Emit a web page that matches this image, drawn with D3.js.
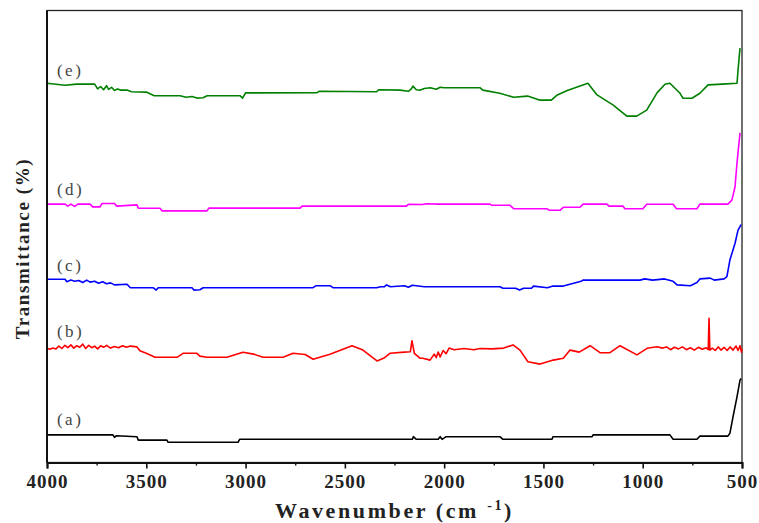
<!DOCTYPE html>
<html>
<head>
<meta charset="utf-8">
<script src="https://cdn.jsdelivr.net/npm/d3@7"></script>
<style>
  html, body { margin: 0; padding: 0; background: #fff; }
  svg { display: block; }
</style>
</head>
<body>
<svg id="chart" width="759" height="523"></svg>
<script>
// ---- Data (wavenumber cm^-1, transmittance in arbitrary offset units) ----
const seriesLabels = ["(a)", "(b)", "(c)", "(d)", "(e)"];
const seriesColors = ["#000000", "#ff0000", "#0000ff", "#ff00ff", "#008000"];
const xMajorTicks = [4000, 3500, 3000, 2500, 2000, 1500, 1000, 500];
const xMinorTicks = [3750, 3250, 2750, 2250, 1750, 1250, 750];
const labelValues = [9.3, 31.3, 47.8, 67.0, 96.6]; // label baseline levels

const seriesA = [[4000,6.9],[3668,6.9],[3660,6.3],[3650,6.7],[3547,6.45],[3540,5.6],[3396,5.6],[3390,5.05],[3038,5.05],[3030,5.8],[2160,5.8],[2155,6.45],[2140,5.8],[2030,5.8],[2020,6.45],[2010,5.8],[1990,6.45],[1719,6.45],[1704,5.8],[1457,5.8],[1452,6.45],[1255,6.45],[1250,6.9],[863,6.9],[847,5.8],[727,5.8],[712,6.6],[571,6.6],[561,7.3],[545,11.45],[525,16.45],[510,20.6],[505,21.0]];

const seriesB = [[4000,28.55],[3985,28.3],[3970,28.6],[3955,28.4],[3940,29.1],[3925,28.5],[3910,29.3],[3895,28.7],[3880,29.4],[3865,28.6],[3850,29.2],[3835,28.8],[3820,29.6],[3805,28.5],[3790,29.3],[3775,28.7],[3760,29.1],[3745,28.4],[3730,29.2],[3715,28.8],[3700,29.3],[3680,28.6],[3660,29.0],[3640,28.7],[3620,29.2],[3600,28.8],[3580,29.1],[3547,28.9],[3532,27.95],[3500,27.3],[3456,26.3],[3345,26.3],[3315,27.3],[3245,27.3],[3230,26.6],[3194,26.3],[3094,26.3],[3013,27.55],[2960,27.1],[2912,26.3],[2811,26.3],[2761,27.3],[2700,27.0],[2660,25.8],[2575,27.05],[2464,29.2],[2409,28.1],[2338,25.4],[2300,26.2],[2273,27.3],[2200,27.6],[2170,27.7],[2162,30.45],[2150,27.3],[2122,26.1],[2107,26.05],[2071,25.6],[2050,27.1],[2040,26.2],[2030,27.6],[2020,26.4],[2005,28.0],[1990,27.2],[1975,28.6],[1950,28.2],[1900,28.5],[1850,28.2],[1819,28.5],[1760,28.4],[1700,28.6],[1653,29.4],[1618,28.1],[1578,25.2],[1517,24.6],[1450,25.6],[1400,26.05],[1366,28.1],[1320,27.6],[1265,29.2],[1215,27.45],[1165,27.45],[1114,29.2],[1029,26.9],[978,28.55],[928,28.95],[900,28.6],[880,28.9],[860,28.2],[840,28.8],[820,28.4],[800,28.9],[780,28.2],[760,28.7],[740,28.1],[720,28.8],[700,28.3],[680,28.7],[670,28.2],[666,36.05],[662,28.1],[650,28.6],[635,28.0],[620,28.9],[605,28.1],[590,28.8],[575,28.0],[560,28.9],[545,28.1],[530,29.1],[520,28.0],[510,29.2],[503,27.6],[500,28.5]];

const seriesC = [[4000,45.8],[3909,45.8],[3900,45.2],[3880,45.6],[3860,45.3],[3840,45.5],[3820,45.0],[3800,45.6],[3783,45.1],[3760,45.3],[3740,44.8],[3720,45.2],[3700,44.7],[3680,44.9],[3660,44.4],[3597,44.55],[3580,43.7],[3466,43.7],[3450,43.1],[3440,43.7],[3270,43.7],[3260,43.1],[3230,43.2],[3214,43.7],[3164,43.7],[2660,43.7],[2645,44.2],[2575,44.2],[2560,43.7],[2450,43.7],[2340,43.7],[2320,43.95],[2300,43.95],[2290,44.4],[2270,43.95],[2200,44.2],[2180,43.8],[2160,44.3],[2100,43.95],[1980,43.95],[1719,43.95],[1704,43.55],[1640,43.55],[1620,43.1],[1600,43.55],[1560,43.55],[1550,44.1],[1480,43.7],[1452,44.1],[1400,44.1],[1310,45.3],[1301,45.6],[1014,45.6],[990,45.9],[950,45.6],[890,45.9],[847,45.3],[827,44.4],[760,44.2],[727,45.0],[712,45.9],[660,46.1],[640,45.6],[590,45.9],[576,46.45],[561,50.6],[535,54.8],[520,58.1],[510,58.95],[505,59.5]];

const seriesD = [[4000,64.6],[3909,64.6],[3895,64.1],[3880,64.6],[3860,64.0],[3845,64.6],[3824,64.6],[3783,64.6],[3770,63.9],[3733,63.9],[3723,64.75],[3660,64.75],[3650,64.1],[3547,64.4],[3540,63.55],[3431,63.55],[3420,62.9],[3194,62.9],[3185,63.6],[2726,63.6],[2715,64.1],[2222,64.1],[2190,64.1],[2180,64.55],[2110,64.5],[2090,64.7],[2030,64.6],[1935,64.6],[1769,64.6],[1760,64.3],[1668,64.3],[1650,63.45],[1482,63.45],[1470,63.05],[1417,63.05],[1400,63.8],[1316,63.8],[1300,64.6],[1180,64.6],[1170,64.1],[1099,64.1],[1090,63.45],[999,63.45],[980,64.55],[847,64.55],[830,63.45],[727,63.45],[712,64.6],[571,64.6],[551,65.6],[535,68.95],[525,75],[510,82.4]];

const seriesE = [[4000,94.8],[3909,94.3],[3850,94.6],[3760,94.6],[3745,93.4],[3730,94.0],[3715,93.2],[3700,94.2],[3690,93.3],[3675,93.8],[3660,93.0],[3645,93.4],[3630,93.1],[3597,93.1],[3575,92.7],[3500,92.6],[3460,91.7],[3330,91.7],[3300,91.3],[3270,91.5],[3245,91.1],[3214,91.2],[3194,91.7],[3028,91.7],[3015,91.1],[3000,92.4],[2640,92.45],[2630,92.8],[2340,92.7],[2330,93.2],[2222,93.1],[2180,92.8],[2165,93.4],[2157,94.1],[2140,93.2],[2120,93.1],[2100,93.5],[2070,93.7],[2040,93.3],[2020,93.8],[2000,93.7],[1820,93.7],[1805,93.1],[1720,92.3],[1650,91.3],[1580,91.6],[1520,90.6],[1460,90.6],[1430,91.9],[1380,93.0],[1276,94.8],[1230,91.9],[1150,89.4],[1080,86.6],[1030,86.6],[980,88.1],[928,92.4],[888,94.55],[863,94.8],[812,92.3],[797,91.05],[752,91.05],[712,92.3],[671,94.4],[600,94.6],[525,94.8],[520,98.1],[510,103.6]];

const allSeries = [seriesA, seriesB, seriesC, seriesD, seriesE];

// ---- Layout ----
const svg = d3.select("#chart");
const margin = { left: 47, right: 17, top: 10.5, bottom: 60.5 };
const W = 759, H = 523;
const x = d3.scaleLinear().domain([4000, 500]).range([margin.left, W - margin.right]);
const y = d3.scaleLinear().domain([0, 113]).range([H - margin.bottom, margin.top]);

// frame
svg.append("rect")
  .attr("x", x(4000)).attr("y", y(113))
  .attr("width", x(500) - x(4000)).attr("height", y(0) - y(113))
  .attr("fill", "none").attr("stroke", "#222").attr("stroke-width", 1.3);

// lines
const line = d3.line().x(d => x(d[0])).y(d => y(d[1]));
allSeries.forEach((s, i) => {
  svg.append("path").datum(s)
    .attr("d", line)
    .attr("fill", "none")
    .attr("stroke", seriesColors[i])
    .attr("stroke-width", 1.6)
    .attr("stroke-linejoin", "round");
});

// series labels
seriesLabels.forEach((t, i) => {
  svg.append("text")
    .attr("x", x(3950)).attr("y", y(labelValues[i]))
    .attr("font-family", "Liberation Serif, Times New Roman, serif")
    .attr("font-size", 17)
    .attr("letter-spacing", 2.5)
    .attr("fill", "#444")
    .text(t);
});

// x axis
const gx = svg.append("g").attr("transform", `translate(0,${y(0)})`);
gx.call(d3.axisBottom(x).tickValues(xMajorTicks).tickSize(6).tickPadding(6).tickFormat(d3.format("d")));
gx.select(".domain").attr("stroke", "#111").attr("stroke-width", 2);
gx.selectAll(".tick line").attr("stroke", "#111").attr("stroke-width", 1.6);
gx.selectAll(".tick text")
  .attr("font-family", "Liberation Serif, Times New Roman, serif")
  .attr("font-weight", "bold")
  .attr("font-size", 19)
  .attr("letter-spacing", 1)
  .attr("fill", "#222");
const gm = svg.append("g").attr("transform", `translate(0,${y(0)})`);
gm.call(d3.axisBottom(x).tickValues(xMinorTicks).tickSize(3).tickFormat(""));
gm.select(".domain").remove();
gm.selectAll(".tick line").attr("stroke", "#111").attr("stroke-width", 1.4);

// left axis line thicker
svg.append("line")
  .attr("x1", x(4000)).attr("x2", x(4000))
  .attr("y1", y(113)).attr("y2", y(0))
  .attr("stroke", "#111").attr("stroke-width", 2);

// axis titles
const xt = svg.append("text")
  .attr("x", (x(4000) + x(500)) / 2)
  .attr("y", H - 5)
  .attr("text-anchor", "middle")
  .attr("font-family", "Liberation Serif, Times New Roman, serif")
  .attr("font-weight", "bold")
  .attr("font-size", 22)
  .attr("letter-spacing", 2.6)
  .attr("fill", "#222");
xt.append("tspan").text("Wavenumber (cm ");
xt.append("tspan").attr("font-size", 14).attr("dy", -8).text("-1");
xt.append("tspan").attr("dy", 8).text(")");

svg.append("text")
  .attr("transform", `translate(29,${(y(0) + y(113)) / 2 + 12}) rotate(-90)`)
  .attr("text-anchor", "middle")
  .attr("font-family", "Liberation Serif, Times New Roman, serif")
  .attr("font-weight", "bold")
  .attr("font-size", 19)
  .attr("letter-spacing", 1.6)
  .attr("fill", "#222")
  .text("Transmittance (%)");
</script>
</body>
</html>
